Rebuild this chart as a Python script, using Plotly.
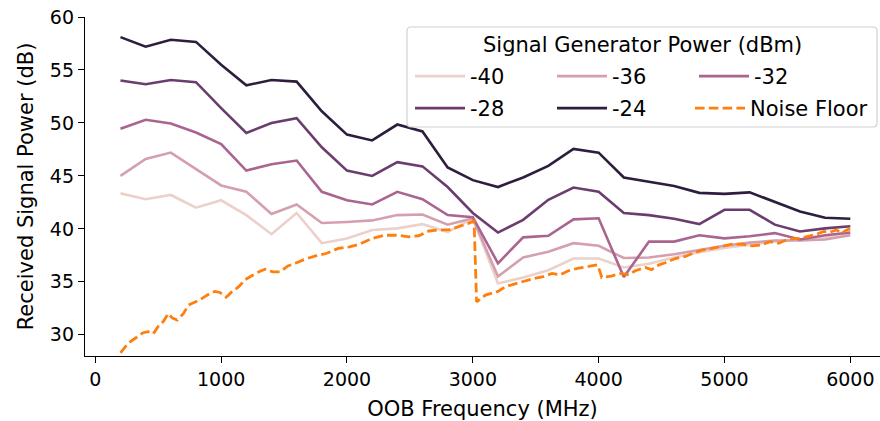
import plotly.graph_objects as go

freq = [200, 400, 600, 800, 1000, 1200, 1400, 1600, 1800, 2000, 2200, 2400, 2600, 2800, 3000,
        3200, 3400, 3600, 3800, 4000, 4200, 4400, 4600, 4800, 5000, 5200, 5400, 5600, 5800, 6000]

p_m40 = [43.35, 42.8, 43.2, 42.0, 42.7, 41.3, 39.5, 41.5, 38.65, 39.1, 39.9, 40.05, 40.45, 39.7, 41.0,
         34.85, 35.4, 36.1, 37.2, 37.2, 36.35, 36.7, 37.3, 37.8, 38.2, 38.5, 38.8, 39.0, 39.2, 39.5]
p_m36 = [45.0, 46.6, 47.2, 45.65, 44.1, 43.5, 41.4, 42.3, 40.55, 40.65, 40.8, 41.3, 41.35, 40.4, 41.0,
         35.5, 37.3, 37.85, 38.65, 38.4, 37.25, 37.3, 37.6, 38.0, 38.4, 38.7, 38.9, 38.9, 39.0, 39.4]
p_m32 = [49.45, 50.3, 49.95, 49.1, 48.0, 45.5, 46.1, 46.45, 43.5, 42.7, 42.3, 43.5, 42.8, 41.3, 41.1,
         36.75, 39.2, 39.35, 40.9, 41.0, 35.45, 38.8, 38.8, 39.4, 39.1, 39.3, 39.6, 39.0, 39.4, 39.65]
p_m28 = [54.0, 53.65, 54.05, 53.85, 51.4, 49.05, 50.0, 50.45, 47.7, 45.5, 45.0, 46.3, 45.9, 43.95, 41.5,
         39.65, 40.85, 42.75, 43.9, 43.5, 41.5, 41.3, 40.95, 40.45, 41.8, 41.8, 40.4, 39.75, 40.05, 40.25]
p_m24 = [58.1, 57.2, 57.85, 57.65, 55.5, 53.55, 54.05, 53.9, 51.1, 48.9, 48.35, 49.85, 49.2, 45.8, 44.6,
         43.95, 44.85, 45.95, 47.55, 47.2, 44.85, 44.45, 44.05, 43.4, 43.3, 43.45, 42.55, 41.65, 41.05, 40.95]

noise_freq = [200, 260, 320, 380, 420, 460, 500, 540, 580, 610, 650, 700, 740, 780, 830, 870, 910, 950,
              990, 1040, 1080, 1140, 1190, 1240, 1300, 1350, 1410, 1470, 1530, 1590, 1670, 1750, 1840,
              1930, 2020, 2100, 2200, 2300, 2400, 2490, 2570, 2650, 2730, 2810, 2890, 2960, 3010, 3030,
              3100, 3150, 3200, 3260, 3340, 3420, 3500, 3560, 3630, 3690, 3760, 3840, 3920, 3990, 4010,
              4025, 4100, 4180, 4240, 4290, 4370, 4420, 4480, 4530, 4610, 4690, 4750, 4820, 4900, 4980,
              5060, 5140, 5220, 5300, 5360, 5430, 5510, 5590, 5650, 5720, 5790, 5840, 5890, 5930, 5970, 6000]
noise_floor = [28.3, 29.2, 29.7, 30.2, 30.3, 30.1, 30.8, 31.25, 32.0, 31.6, 31.4, 32.0, 32.8, 33.0, 33.3,
               33.6, 33.9, 34.1, 34.0, 33.55, 34.0, 34.55, 35.2, 35.55, 35.95, 36.2, 35.95, 35.95, 36.5,
               36.75, 37.15, 37.45, 37.7, 38.15, 38.3, 38.55, 39.1, 39.4, 39.4, 39.25, 39.35, 39.8, 39.9,
               39.9, 40.2, 40.5, 40.75, 33.1, 33.75, 33.9, 34.1, 34.55, 34.85, 35.1, 35.35, 35.5, 35.8,
               35.65, 36.05, 36.3, 36.45, 36.6, 36.0, 35.4, 35.55, 35.8, 35.65, 36.05, 36.35, 36.15, 36.6,
               36.8, 37.2, 37.4, 37.7, 38.0, 38.15, 38.35, 38.55, 38.55, 38.4, 38.5, 38.8, 38.65, 39.05,
               39.1, 39.25, 39.45, 39.75, 39.7, 39.9, 39.6, 39.9, 40.0]

series_labels = ["-40", "-36", "-32", "-28", "-24"]
series_values = [p_m40, p_m36, p_m32, p_m28, p_m24]
series_colors = ["#ecd0ca", "#d5a0ae", "#a9658f", "#6b3d6f", "#2d1e3e"]
legend_title = "Signal Generator Power (dBm)"
noise_label = "Noise Floor"
x_title = "OOB Frequency (MHz)"
y_title = "Received Signal Power (dB)"

W, H = 880, 421
ML, MR, MT, MB = 85, 0, 17, 65
PW, PH = W - ML - MR, H - MT - MB

FONT = "DejaVu Sans"

fig = go.Figure()
for i, (lab, vals, col) in enumerate(zip(series_labels, series_values, series_colors)):
    fig.add_trace(go.Scatter(
        x=freq, y=vals, mode="lines", name=lab,
        line=dict(color=col, width=2.6),
        legend="legend" if i < 3 else "legend2",
    ))
fig.add_trace(go.Scatter(
    x=noise_freq, y=noise_floor, mode="lines", name=noise_label,
    line=dict(color="#ff7f0e", width=2.8, dash="9.6px,4.2px"),
    legend="legend3",
))

def px_x(p):
    return (p - ML) / PW

def px_y(p):
    return (H - MB - p) / PH

# legend frame (rounded corners)
x0, x1, y0, y1, r = 407, 877, 27, 127, 4
path = (f"M {x0 + r},{y0} L {x1 - r},{y0} Q {x1},{y0} {x1},{y0 + r} "
        f"L {x1},{y1 - r} Q {x1},{y1} {x1 - r},{y1} L {x0 + r},{y1} "
        f"Q {x0},{y1} {x0},{y1 - r} L {x0},{y0 + r} Q {x0},{y0} {x0 + r},{y0} Z")
def conv(tok_pair):
    a, b = tok_pair.split(",")
    return f"{px_x(float(a)):.5f},{px_y(float(b)):.5f}"
parts = []
for tok in path.split(" "):
    parts.append(conv(tok) if "," in tok else tok)
fig.add_shape(type="path", xref="paper", yref="paper", path=" ".join(parts),
              line=dict(color="#d0d0d0", width=1.2), fillcolor="rgba(255,255,255,0.8)",
              layer="above")

fig.add_annotation(text=legend_title, xref="paper", yref="paper",
                   x=px_x(642), y=px_y(45), xanchor="center", yanchor="middle",
                   showarrow=False, font=dict(family=FONT, size=21, color="#000000"))

LEG_FONT = dict(family=FONT, size=21, color="#000000")
leg_common = dict(
    xref="paper", yref="paper", xanchor="left", yanchor="top",
    orientation="h", bgcolor="rgba(0,0,0,0)", borderwidth=0,
    font=LEG_FONT,
    entrywidth=77, entrywidthmode="pixels", itemwidth=50,
    tracegroupgap=0,
)

fig.update_layout(
    width=W, height=H,
    margin=dict(l=ML, r=MR, t=MT, b=MB, pad=0, autoexpand=False),
    paper_bgcolor="white", plot_bgcolor="white",
    font=dict(family=FONT, size=19, color="#000000"),
    showlegend=True,
    legend=dict(**leg_common, x=px_x(410), y=px_y(56)),
    legend2=dict(**leg_common, x=px_x(410), y=px_y(88)),
    legend3=dict(xref="paper", yref="paper", xanchor="left", yanchor="top",
                 orientation="h", bgcolor="rgba(0,0,0,0)", borderwidth=0,
                 font=LEG_FONT, itemwidth=50,
                 x=px_x(410 + 2 * 137 + 6), y=px_y(88)),
    xaxis=dict(
        range=[-82, 6236], tickvals=[0, 1000, 2000, 3000, 4000, 5000, 6000],
        ticks="outside", ticklen=6, tickwidth=1.3, tickcolor="#000000",
        showline=True, linecolor="#000000", linewidth=1.3, mirror=False,
        showgrid=False, zeroline=False,
        tickfont=dict(family=FONT, size=19, color="#000000"),
        title=dict(text=x_title, font=dict(family=FONT, size=21, color="#000000"), standoff=12),
    ),
    yaxis=dict(
        range=[28, 60], tickvals=[30, 35, 40, 45, 50, 55, 60],
        ticks="outside", ticklen=6, tickwidth=1.3, tickcolor="#000000",
        showline=True, linecolor="#000000", linewidth=1.3, mirror=False,
        showgrid=False, zeroline=False,
        tickfont=dict(family=FONT, size=19, color="#000000"),
        title=dict(text=y_title, font=dict(family=FONT, size=21, color="#000000"), standoff=10),
    ),
)

fig.write_html("out.html")
